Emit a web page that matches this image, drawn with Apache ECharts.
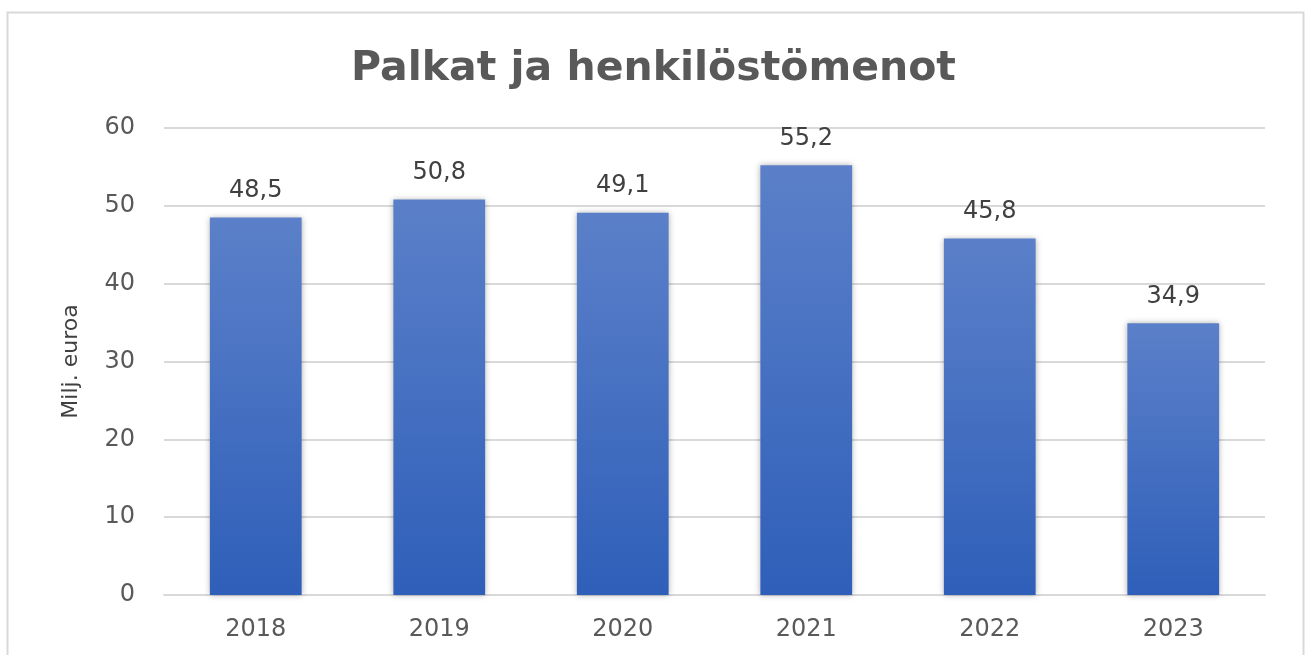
<!DOCTYPE html>
<html><head><meta charset="utf-8">
<script src="https://cdn.jsdelivr.net/npm/echarts@6/dist/echarts.min.js"></script>
<style>html,body{margin:0;padding:0;background:#fff}#c{width:1307px;height:655px}</style>
</head><body><div id="c"></div>
<script>
const categories = ['2018','2019','2020','2021','2022','2023'];
const values = [48.5, 50.8, 49.1, 55.2, 45.8, 34.9];
const yTicks = [0, 10, 20, 30, 40, 50, 60];
const title = 'Palkat ja henkilöstömenot';
const yName = 'Milj. euroa';

const chart = echarts.init(document.getElementById('c'));
chart.setOption({
  animation: false,
  backgroundColor: '#fff',
  graphic: [{
    type: 'rect', left: 5, top: 10, z: -1,
    shape: { width: 1296, height: 700 },
    style: { fill: 'none', stroke: '#d9d9d9', lineWidth: 2 }
  }],
  title: {
    text: title, left: 'center', top: 44,
    textStyle: { fontFamily: 'DejaVu Sans', fontWeight: 'bold', fontSize: 41, color: '#595959' }
  },
  grid: { left: 164, right: 42, top: 128, bottom: 60, containLabel: false },
  xAxis: {
    type: 'category', data: categories,
    axisLine: { lineStyle: { color: '#d9d9d9', width: 2 } },
    axisTick: { show: false },
    axisLabel: { color: '#595959', fontSize: 24, fontFamily: 'DejaVu Sans', margin: 23 }
  },
  yAxis: {
    type: 'value', min: yTicks[0], max: yTicks[yTicks.length - 1], interval: 10,
    name: yName, nameLocation: 'middle', nameGap: 82, nameRotate: 90,
    nameTextStyle: { color: '#404040', fontSize: 22, fontFamily: 'DejaVu Sans' },
    axisLine: { show: false }, axisTick: { show: false },
    axisLabel: { color: '#595959', fontSize: 24, fontFamily: 'DejaVu Sans', margin: 29 },
    splitLine: { lineStyle: { color: '#d9d9d9', width: 2 } }
  },
  series: [{
    type: 'bar', data: values, barWidth: '50%',
    itemStyle: {
      color: new echarts.graphic.LinearGradient(0, 0, 0, 1, [
        { offset: 0, color: '#5b80c9' }, { offset: 1, color: '#2f5fb9' }
      ]),
      shadowColor: 'rgba(0,0,0,0.3)', shadowBlur: 6, shadowOffsetX: 0, shadowOffsetY: 0
    },
    label: {
      show: true, position: 'top', distance: 15,
      color: '#404040', fontSize: 24, fontFamily: 'DejaVu Sans',
      formatter: p => String(p.value).replace('.', ',')
    }
  }]
});
</script></body></html>
